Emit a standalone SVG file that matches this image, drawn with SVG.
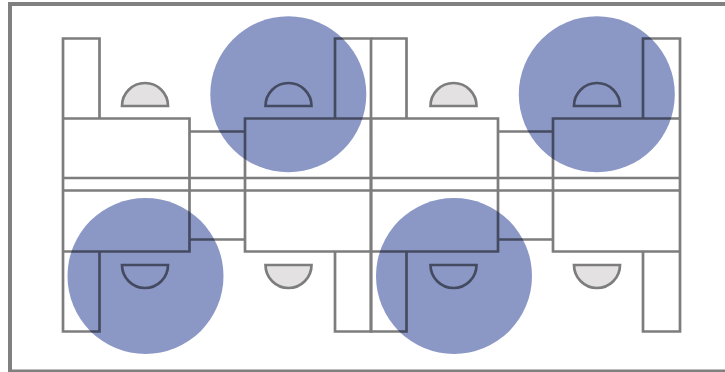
<svg xmlns="http://www.w3.org/2000/svg" width="725" height="372" viewBox="0 0 725 372">
<style>
.o{fill:none;stroke:#7d7d7d;stroke-width:2.700;stroke-linejoin:miter}
.h{fill:#e3e1e2;stroke:#7d7d7d;stroke-width:2.700}
.n{fill:none;stroke:#7d7d7d;stroke-width:2.700}
.c{fill:#8b98c6;stroke:none;mix-blend-mode:multiply}
</style>
<rect width="725" height="372" fill="#fff"/>
<path d="M10 372V4H725" fill="none" stroke="#808080" stroke-width="4"/>
<path d="M10 370.800H725" fill="none" stroke="#808080" stroke-width="2.500"/>
<g id="desks">
<path class="o" d="M63 118.500V38.500H99.500V118.500M63 118.500H189.500V251.500H63ZM63 178H680M63 190.500H680M189.500 131.500H245M189.500 239.500H245M245 118.500H371V251.500H245ZM335 118.500V38.500H371V118.500M63 251.500V331.500H99.500V251.500M335 251.500V331.500H371V251.500"/>
<path class="o" d="M371 118.500H498V251.500H371ZM371 38.500H406.500V118.500M371 251.500V331.500H406.500V251.500M498 131.500H553M498 239.500H553M553 118.500H680V251.500H553ZM643 118.500V38.500H680V118.500M643 251.500V331.500H680V251.500"/>
</g>
<g id="seats">
<path class="h" d="M122 106a23 23 0 0 1 46 0Z"/>
<path class="n" d="M265.500 106a23 23 0 0 1 46 0Z"/>
<path class="h" d="M430.500 106a23 23 0 0 1 46 0Z"/>
<path class="n" d="M574 106a23 23 0 0 1 46 0Z"/>
<path class="n" d="M122 265a23 23 0 0 0 46 0Z"/>
<path class="h" d="M265.500 265a23 23 0 0 0 46 0Z"/>
<path class="n" d="M430.500 265a23 23 0 0 0 46 0Z"/>
<path class="h" d="M574 265a23 23 0 0 0 46 0Z"/>
</g>
<g id="coverage">
<circle class="c" cx="288.300" cy="94.300" r="78"/>
<circle class="c" cx="596.800" cy="94.300" r="78"/>
<circle class="c" cx="145.500" cy="276" r="78"/>
<circle class="c" cx="454" cy="276" r="78"/>
</g>
</svg>
